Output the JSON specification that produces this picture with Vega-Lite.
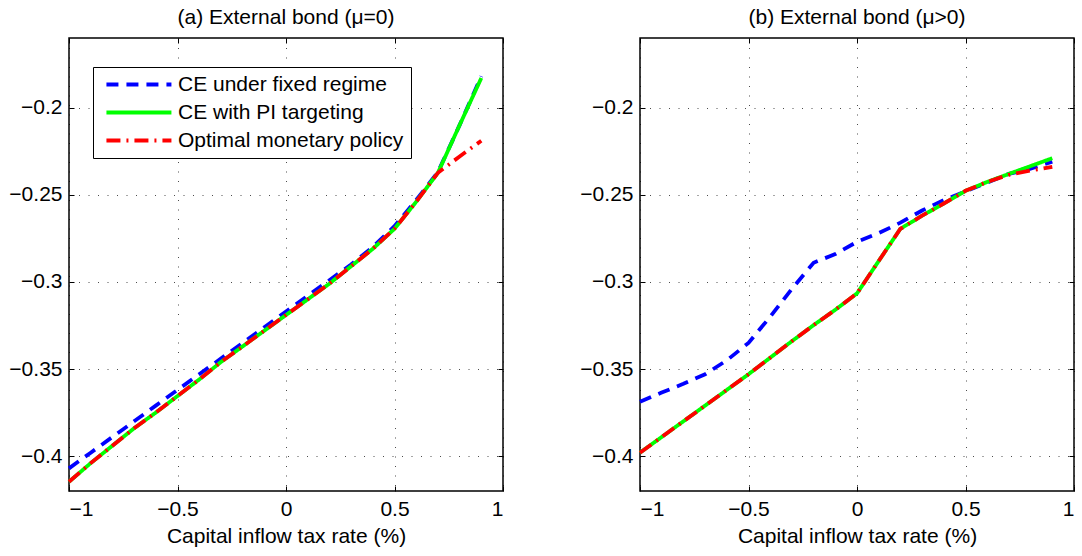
{
  "$schema": "https://vega.github.io/schema/vega-lite/v6.json",
  "background": "white",
  "padding": {"left": 8, "top": 5, "right": 5, "bottom": 3},
  "spacing": 74,
  "config": {
    "font": "Liberation Sans",
    "view": {"stroke": "black", "strokeWidth": 1.5},
    "axis": {
      "labelFont": "Liberation Sans", "labelFontSize": 21, "labelColor": "black",
      "titleFont": "Liberation Sans", "titleFontSize": 21, "titleFontWeight": "normal", "titleColor": "black",
      "domain": false, "tickColor": "black", "tickSize": -5, "tickWidth": 1,
      "gridColor": "black", "gridDash": [1, 8.5], "gridOpacity": 0.7, "gridWidth": 1,
      "labelPadding": 12, "titlePadding": 6
    },
    "title": {"font": "Liberation Sans", "fontSize": 21, "fontWeight": "normal", "color": "black", "offset": 10},
    "legend": {
      "orient": "none", "legendX": 24, "legendY": 29,
      "strokeColor": "black", "fillColor": "white", "padding": 7,
      "symbolType": "M-0.5,0H7.5", "symbolSize": 264, "symbolStrokeWidth": 3.8,
      "labelFont": "Liberation Sans", "labelFontSize": 21, "labelColor": "black", "labelLimit": 400, "labelOffset": 57,
      "rowPadding": 6
    }
  },
  "resolve": {"legend": {"color": "independent", "strokeDash": "independent"}},
  "datasets": {
    "d": [
      {"panel": "a", "series": "CE under fixed regime", "x": -1.0, "y": -0.407},
      {"panel": "a", "series": "CE under fixed regime", "x": -0.9, "y": -0.398},
      {"panel": "a", "series": "CE under fixed regime", "x": -0.8, "y": -0.389},
      {"panel": "a", "series": "CE under fixed regime", "x": -0.7, "y": -0.380},
      {"panel": "a", "series": "CE under fixed regime", "x": -0.6, "y": -0.371},
      {"panel": "a", "series": "CE under fixed regime", "x": -0.5, "y": -0.362},
      {"panel": "a", "series": "CE under fixed regime", "x": -0.4, "y": -0.353},
      {"panel": "a", "series": "CE under fixed regime", "x": -0.3, "y": -0.344},
      {"panel": "a", "series": "CE under fixed regime", "x": -0.2, "y": -0.335},
      {"panel": "a", "series": "CE under fixed regime", "x": -0.1, "y": -0.326},
      {"panel": "a", "series": "CE under fixed regime", "x": 0.0, "y": -0.317},
      {"panel": "a", "series": "CE under fixed regime", "x": 0.1, "y": -0.308},
      {"panel": "a", "series": "CE under fixed regime", "x": 0.2, "y": -0.299},
      {"panel": "a", "series": "CE under fixed regime", "x": 0.3, "y": -0.290},
      {"panel": "a", "series": "CE under fixed regime", "x": 0.4, "y": -0.280},
      {"panel": "a", "series": "CE under fixed regime", "x": 0.5, "y": -0.268},
      {"panel": "a", "series": "CE under fixed regime", "x": 0.6, "y": -0.253},
      {"panel": "a", "series": "CE under fixed regime", "x": 0.7, "y": -0.237},
      {"panel": "a", "series": "CE under fixed regime", "x": 0.8, "y": -0.210},
      {"panel": "a", "series": "CE under fixed regime", "x": 0.9, "y": -0.182},
      {"panel": "a", "series": "CE with PI targeting", "x": -1.0, "y": -0.4147},
      {"panel": "a", "series": "CE with PI targeting", "x": -0.9, "y": -0.404},
      {"panel": "a", "series": "CE with PI targeting", "x": -0.8, "y": -0.394},
      {"panel": "a", "series": "CE with PI targeting", "x": -0.7, "y": -0.384},
      {"panel": "a", "series": "CE with PI targeting", "x": -0.6, "y": -0.375},
      {"panel": "a", "series": "CE with PI targeting", "x": -0.5, "y": -0.3655},
      {"panel": "a", "series": "CE with PI targeting", "x": -0.4, "y": -0.356},
      {"panel": "a", "series": "CE with PI targeting", "x": -0.3, "y": -0.346},
      {"panel": "a", "series": "CE with PI targeting", "x": -0.2, "y": -0.337},
      {"panel": "a", "series": "CE with PI targeting", "x": -0.1, "y": -0.328},
      {"panel": "a", "series": "CE with PI targeting", "x": 0.0, "y": -0.319},
      {"panel": "a", "series": "CE with PI targeting", "x": 0.1, "y": -0.310},
      {"panel": "a", "series": "CE with PI targeting", "x": 0.2, "y": -0.301},
      {"panel": "a", "series": "CE with PI targeting", "x": 0.3, "y": -0.291},
      {"panel": "a", "series": "CE with PI targeting", "x": 0.4, "y": -0.281},
      {"panel": "a", "series": "CE with PI targeting", "x": 0.5, "y": -0.2695},
      {"panel": "a", "series": "CE with PI targeting", "x": 0.6, "y": -0.254},
      {"panel": "a", "series": "CE with PI targeting", "x": 0.7, "y": -0.2374},
      {"panel": "a", "series": "CE with PI targeting", "x": 0.8, "y": -0.210},
      {"panel": "a", "series": "CE with PI targeting", "x": 0.9, "y": -0.183},
      {"panel": "a", "series": "Optimal monetary policy", "x": -1.0, "y": -0.4147},
      {"panel": "a", "series": "Optimal monetary policy", "x": -0.9, "y": -0.404},
      {"panel": "a", "series": "Optimal monetary policy", "x": -0.8, "y": -0.394},
      {"panel": "a", "series": "Optimal monetary policy", "x": -0.7, "y": -0.384},
      {"panel": "a", "series": "Optimal monetary policy", "x": -0.6, "y": -0.375},
      {"panel": "a", "series": "Optimal monetary policy", "x": -0.5, "y": -0.3655},
      {"panel": "a", "series": "Optimal monetary policy", "x": -0.4, "y": -0.356},
      {"panel": "a", "series": "Optimal monetary policy", "x": -0.3, "y": -0.346},
      {"panel": "a", "series": "Optimal monetary policy", "x": -0.2, "y": -0.337},
      {"panel": "a", "series": "Optimal monetary policy", "x": -0.1, "y": -0.328},
      {"panel": "a", "series": "Optimal monetary policy", "x": 0.0, "y": -0.319},
      {"panel": "a", "series": "Optimal monetary policy", "x": 0.1, "y": -0.310},
      {"panel": "a", "series": "Optimal monetary policy", "x": 0.2, "y": -0.301},
      {"panel": "a", "series": "Optimal monetary policy", "x": 0.3, "y": -0.291},
      {"panel": "a", "series": "Optimal monetary policy", "x": 0.4, "y": -0.281},
      {"panel": "a", "series": "Optimal monetary policy", "x": 0.5, "y": -0.2695},
      {"panel": "a", "series": "Optimal monetary policy", "x": 0.6, "y": -0.254},
      {"panel": "a", "series": "Optimal monetary policy", "x": 0.7, "y": -0.2374},
      {"panel": "a", "series": "Optimal monetary policy", "x": 0.8, "y": -0.228},
      {"panel": "a", "series": "Optimal monetary policy", "x": 0.9, "y": -0.219},
      {"panel": "b", "series": "CE under fixed regime", "x": -1.0, "y": -0.3688},
      {"panel": "b", "series": "CE under fixed regime", "x": -0.9, "y": -0.3635},
      {"panel": "b", "series": "CE under fixed regime", "x": -0.8, "y": -0.3585},
      {"panel": "b", "series": "CE under fixed regime", "x": -0.7, "y": -0.353},
      {"panel": "b", "series": "CE under fixed regime", "x": -0.6, "y": -0.345},
      {"panel": "b", "series": "CE under fixed regime", "x": -0.5, "y": -0.335},
      {"panel": "b", "series": "CE under fixed regime", "x": -0.4, "y": -0.320},
      {"panel": "b", "series": "CE under fixed regime", "x": -0.3, "y": -0.304},
      {"panel": "b", "series": "CE under fixed regime", "x": -0.2, "y": -0.289},
      {"panel": "b", "series": "CE under fixed regime", "x": -0.1, "y": -0.284},
      {"panel": "b", "series": "CE under fixed regime", "x": 0.0, "y": -0.277},
      {"panel": "b", "series": "CE under fixed regime", "x": 0.1, "y": -0.272},
      {"panel": "b", "series": "CE under fixed regime", "x": 0.2, "y": -0.266},
      {"panel": "b", "series": "CE under fixed regime", "x": 0.3, "y": -0.259},
      {"panel": "b", "series": "CE under fixed regime", "x": 0.4, "y": -0.253},
      {"panel": "b", "series": "CE under fixed regime", "x": 0.5, "y": -0.248},
      {"panel": "b", "series": "CE under fixed regime", "x": 0.6, "y": -0.243},
      {"panel": "b", "series": "CE under fixed regime", "x": 0.7, "y": -0.238},
      {"panel": "b", "series": "CE under fixed regime", "x": 0.8, "y": -0.235},
      {"panel": "b", "series": "CE under fixed regime", "x": 0.9, "y": -0.231},
      {"panel": "b", "series": "CE with PI targeting", "x": -1.0, "y": -0.398},
      {"panel": "b", "series": "CE with PI targeting", "x": -0.9, "y": -0.389},
      {"panel": "b", "series": "CE with PI targeting", "x": -0.8, "y": -0.380},
      {"panel": "b", "series": "CE with PI targeting", "x": -0.7, "y": -0.371},
      {"panel": "b", "series": "CE with PI targeting", "x": -0.6, "y": -0.362},
      {"panel": "b", "series": "CE with PI targeting", "x": -0.5, "y": -0.353},
      {"panel": "b", "series": "CE with PI targeting", "x": -0.4, "y": -0.3435},
      {"panel": "b", "series": "CE with PI targeting", "x": -0.3, "y": -0.334},
      {"panel": "b", "series": "CE with PI targeting", "x": -0.2, "y": -0.3248},
      {"panel": "b", "series": "CE with PI targeting", "x": -0.1, "y": -0.316},
      {"panel": "b", "series": "CE with PI targeting", "x": 0.0, "y": -0.3066},
      {"panel": "b", "series": "CE with PI targeting", "x": 0.1, "y": -0.288},
      {"panel": "b", "series": "CE with PI targeting", "x": 0.2, "y": -0.2695},
      {"panel": "b", "series": "CE with PI targeting", "x": 0.3, "y": -0.262},
      {"panel": "b", "series": "CE with PI targeting", "x": 0.4, "y": -0.255},
      {"panel": "b", "series": "CE with PI targeting", "x": 0.5, "y": -0.2477},
      {"panel": "b", "series": "CE with PI targeting", "x": 0.6, "y": -0.2426},
      {"panel": "b", "series": "CE with PI targeting", "x": 0.7, "y": -0.238},
      {"panel": "b", "series": "CE with PI targeting", "x": 0.8, "y": -0.2335},
      {"panel": "b", "series": "CE with PI targeting", "x": 0.9, "y": -0.229},
      {"panel": "b", "series": "Optimal monetary policy", "x": -1.0, "y": -0.398},
      {"panel": "b", "series": "Optimal monetary policy", "x": -0.9, "y": -0.389},
      {"panel": "b", "series": "Optimal monetary policy", "x": -0.8, "y": -0.380},
      {"panel": "b", "series": "Optimal monetary policy", "x": -0.7, "y": -0.371},
      {"panel": "b", "series": "Optimal monetary policy", "x": -0.6, "y": -0.362},
      {"panel": "b", "series": "Optimal monetary policy", "x": -0.5, "y": -0.353},
      {"panel": "b", "series": "Optimal monetary policy", "x": -0.4, "y": -0.3435},
      {"panel": "b", "series": "Optimal monetary policy", "x": -0.3, "y": -0.334},
      {"panel": "b", "series": "Optimal monetary policy", "x": -0.2, "y": -0.3248},
      {"panel": "b", "series": "Optimal monetary policy", "x": -0.1, "y": -0.316},
      {"panel": "b", "series": "Optimal monetary policy", "x": 0.0, "y": -0.3066},
      {"panel": "b", "series": "Optimal monetary policy", "x": 0.1, "y": -0.288},
      {"panel": "b", "series": "Optimal monetary policy", "x": 0.2, "y": -0.2695},
      {"panel": "b", "series": "Optimal monetary policy", "x": 0.3, "y": -0.262},
      {"panel": "b", "series": "Optimal monetary policy", "x": 0.4, "y": -0.255},
      {"panel": "b", "series": "Optimal monetary policy", "x": 0.5, "y": -0.2477},
      {"panel": "b", "series": "Optimal monetary policy", "x": 0.6, "y": -0.2426},
      {"panel": "b", "series": "Optimal monetary policy", "x": 0.7, "y": -0.2385},
      {"panel": "b", "series": "Optimal monetary policy", "x": 0.8, "y": -0.236},
      {"panel": "b", "series": "Optimal monetary policy", "x": 0.9, "y": -0.234}
    ]
  },
  "hconcat": [
    {
      "title": "(a) External bond (μ=0)",
      "width": 434, "height": 453,
      "data": {"name": "d"},
      "transform": [{"filter": "datum.panel == 'a'"}],
      "layer": [
        {
          "mark": {"type": "line", "strokeWidth": 3.8},
          "encoding": {
            "x": {"field": "x", "type": "quantitative", "scale": {"domain": [-1, 1], "nice": false},
                  "axis": {"values": [-1, -0.5, 0, 0.5, 1], "format": "~g", "title": "Capital inflow tax rate (%)", "grid": true}},
            "y": {"field": "y", "type": "quantitative", "scale": {"domain": [-0.42, -0.16], "nice": false, "zero": false},
                  "axis": {"values": [-0.4, -0.35, -0.3, -0.25, -0.2], "format": "~g", "title": null, "grid": true}},
            "color": {"field": "series", "type": "nominal",
                      "scale": {"domain": ["CE under fixed regime", "CE with PI targeting", "Optimal monetary policy"], "range": ["#0000ff", "#00ff00", "#ff0000"]},
                      "legend": {"title": null}},
            "strokeDash": {"field": "series", "type": "nominal",
                      "scale": {"domain": ["CE under fixed regime", "CE with PI targeting", "Optimal monetary policy"], "range": [[12, 8], [1, 0], [14, 6, 2, 6]]},
                      "legend": {"title": null}}
          }
        },
        {
          "mark": {"type": "line", "opacity": 0},
          "encoding": {
            "x": {"field": "x", "type": "quantitative", "scale": {"domain": [-1, 1], "nice": false},
                  "axis": {"orient": "top", "values": [-1, -0.5, 0, 0.5, 1], "labels": false, "title": null, "grid": false}},
            "y": {"field": "y", "type": "quantitative", "scale": {"domain": [-0.42, -0.16], "nice": false, "zero": false},
                  "axis": {"orient": "right", "values": [-0.4, -0.35, -0.3, -0.25, -0.2], "labels": false, "title": null, "grid": false}}
          }
        }
      ],
      "resolve": {"axis": {"x": "independent", "y": "independent"}}
    },
    {
      "title": "(b) External bond (μ>0)",
      "width": 434, "height": 453,
      "data": {"name": "d"},
      "transform": [{"filter": "datum.panel == 'b'"}],
      "layer": [
        {
          "mark": {"type": "line", "strokeWidth": 3.8},
          "encoding": {
            "x": {"field": "x", "type": "quantitative", "scale": {"domain": [-1, 1], "nice": false},
                  "axis": {"values": [-1, -0.5, 0, 0.5, 1], "format": "~g", "title": "Capital inflow tax rate (%)", "grid": true}},
            "y": {"field": "y", "type": "quantitative", "scale": {"domain": [-0.42, -0.16], "nice": false, "zero": false},
                  "axis": {"values": [-0.4, -0.35, -0.3, -0.25, -0.2], "format": "~g", "title": null, "grid": true}},
            "color": {"field": "series", "type": "nominal",
                      "scale": {"domain": ["CE under fixed regime", "CE with PI targeting", "Optimal monetary policy"], "range": ["#0000ff", "#00ff00", "#ff0000"]},
                      "legend": null},
            "strokeDash": {"field": "series", "type": "nominal",
                      "scale": {"domain": ["CE under fixed regime", "CE with PI targeting", "Optimal monetary policy"], "range": [[12, 8], [1, 0], [14, 6, 2, 6]]},
                      "legend": null}
          }
        },
        {
          "mark": {"type": "line", "opacity": 0},
          "encoding": {
            "x": {"field": "x", "type": "quantitative", "scale": {"domain": [-1, 1], "nice": false},
                  "axis": {"orient": "top", "values": [-1, -0.5, 0, 0.5, 1], "labels": false, "title": null, "grid": false}},
            "y": {"field": "y", "type": "quantitative", "scale": {"domain": [-0.42, -0.16], "nice": false, "zero": false},
                  "axis": {"orient": "right", "values": [-0.4, -0.35, -0.3, -0.25, -0.2], "labels": false, "title": null, "grid": false}}
          }
        }
      ],
      "resolve": {"axis": {"x": "independent", "y": "independent"}}
    }
  ]
}
